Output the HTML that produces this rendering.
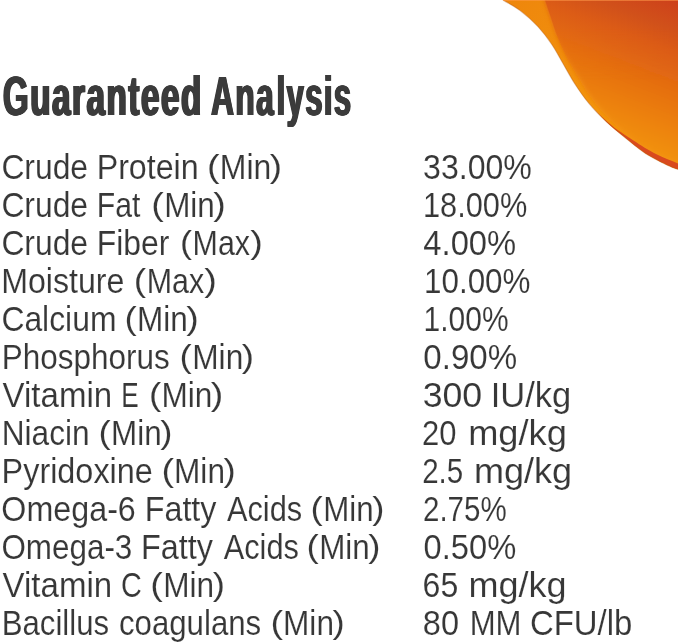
<!DOCTYPE html>
<html lang="en"><head><meta charset="utf-8"><title>Guaranteed Analysis</title>
<style>
html,body{margin:0;padding:0;background:#fff}
body{width:678px;height:642px;position:relative;overflow:hidden;font-family:"Liberation Sans",sans-serif}
.r span{position:absolute;left:0;top:0;white-space:pre;line-height:1;font-size:34.4px;color:#373737;transform-origin:0 0;-webkit-text-stroke:0.12px #fff}
h1{margin:0;font-size:55.5px;font-weight:bold;color:#3b3b3b}
h1 span{position:absolute;left:0;top:0;white-space:pre;line-height:1;transform-origin:0 0;letter-spacing:2.6px;text-shadow:1.6px 0 0 #3b3b3b,-1.6px 0 0 #3b3b3b,0.8px 0 0 #3b3b3b,-0.8px 0 0 #3b3b3b}
</style></head><body>
<svg width="678" height="642" viewBox="0 0 678 642" style="position:absolute;left:0;top:0">
<defs>
<linearGradient id="g1" gradientUnits="userSpaceOnUse" x1="678" y1="0" x2="622.6" y2="143.2">
<stop offset="0" stop-color="#cd401b"/><stop offset=".195" stop-color="#d1511a"/><stop offset=".33" stop-color="#dc5c16"/><stop offset=".44" stop-color="#e06514"/><stop offset=".53" stop-color="#e46c10"/><stop offset=".65" stop-color="#e8760d"/><stop offset=".81" stop-color="#ed830e"/><stop offset="1" stop-color="#f2920f"/>
</linearGradient>
<linearGradient id="g2" gradientUnits="userSpaceOnUse" x1="505" y1="0" x2="600" y2="110">
<stop offset="0" stop-color="#ee860c"/><stop offset="1" stop-color="#f4960d"/>
</linearGradient>
<linearGradient id="mg" gradientUnits="userSpaceOnUse" x1="0" y1="28" x2="0" y2="80">
<stop offset="0" stop-color="#fff"/><stop offset="1" stop-color="#000"/>
</linearGradient>
<filter id="bl" x="-30%" y="-30%" width="160%" height="160%"><feGaussianBlur stdDeviation="2.6"/></filter>
<clipPath id="co"><path d="M502.9 0.0C508.6 3.5 514.3 6.2 520.1 10.6C525.9 15.0 532.5 20.8 537.8 26.5C543.1 32.2 547.9 38.6 552.0 44.7C556.1 50.8 558.9 56.4 562.7 63.0C566.6 69.6 570.7 77.5 575.1 84.2C579.5 90.9 583.6 97.0 588.9 103.3C594.1 109.6 600.7 116.3 606.6 121.9C612.5 127.5 618.0 131.8 624.4 137.0C630.8 142.2 637.8 148.4 645.2 153.2C652.6 158.0 663.0 163.0 668.8 165.8C674.6 168.6 676.3 168.6 680.0 170.0L700 170L700 -30L500 -30Z"/></clipPath>
<mask id="mk" maskUnits="userSpaceOnUse" x="480" y="-5" width="220" height="200"><rect x="480" y="-5" width="220" height="200" fill="url(#mg)"/></mask>
</defs>
<path d="M502.9 0.0C508.6 3.5 514.3 6.2 520.1 10.6C525.9 15.0 532.5 20.8 537.8 26.5C543.1 32.2 547.9 38.6 552.0 44.7C556.1 50.8 558.9 56.4 562.7 63.0C566.6 69.6 570.7 77.5 575.1 84.2C579.5 90.9 583.6 97.0 588.9 103.3C594.1 109.6 600.7 116.3 606.6 121.9C612.5 127.5 618.0 131.8 624.4 137.0C630.8 142.2 637.8 148.4 645.2 153.2C652.6 158.0 663.0 163.0 668.8 165.8C674.6 168.6 676.3 168.6 680.0 170.0L700 170L700 -30L500 -30Z" fill="url(#g2)"/>
<g clip-path="url(#co)"><path d="M545.0 0.0C547.0 5.9 548.8 11.4 551.0 17.7C553.2 24.0 555.3 31.3 558.0 38.0C560.7 44.7 563.7 51.2 567.0 57.7C570.3 64.2 573.8 70.1 578.0 77.0C582.2 83.9 586.7 91.8 592.0 99.0C597.3 106.2 603.1 113.1 610.0 120.0C616.9 126.9 625.6 134.6 633.4 140.4C641.2 146.2 649.2 150.6 657.0 154.6C664.8 158.6 672.3 161.0 680.0 164.2L720 164L720 -30L545 -30Z" fill="url(#g1)" filter="url(#bl)"/></g>
<path d="M545.0 0.0C547.0 5.9 548.8 11.4 551.0 17.7C553.2 24.0 555.3 31.3 558.0 38.0C560.7 44.7 563.7 51.2 567.0 57.7C570.3 64.2 573.8 70.1 578.0 77.0C582.2 83.9 586.7 91.8 592.0 99.0C597.3 106.2 603.1 113.1 610.0 120.0C616.9 126.9 625.6 134.6 633.4 140.4C641.2 146.2 649.2 150.6 657.0 154.6C664.8 158.6 672.3 161.0 680.0 164.2L720 164L720 -30L545 -30Z" fill="url(#g1)" mask="url(#mk)"/>
<path d="M588.9 103.3C594.8 109.5 600.7 116.3 606.6 121.9C612.5 127.5 618.0 131.8 624.4 137.0C630.8 142.2 637.8 148.4 645.2 153.2C652.6 158.0 663.0 163.0 668.8 165.8C674.6 168.6 676.3 168.6 680.0 170.0L680.0 164.2C672.3 161.0 664.8 158.6 657.0 154.6C649.2 150.6 639.9 144.5 633.4 140.4C626.9 136.3 622.5 133.4 618.0 130.2C613.5 126.9 610.0 123.9 606.6 120.9C603.2 118.0 600.7 115.4 597.7 112.5C594.8 109.6 591.8 106.4 588.9 103.3Z" fill="#d94a1e"/>
<path d="M502.9 0.0C508.6 3.5 514.3 6.2 520.1 10.6C525.9 15.0 532.5 20.8 537.8 26.5C543.1 32.2 547.9 38.6 552.0 44.7C556.1 50.8 558.9 56.4 562.7 63.0C566.6 69.6 570.7 77.5 575.1 84.2C579.5 90.9 583.6 97.0 588.9 103.3C594.1 109.6 600.7 116.3 606.6 121.9C612.5 127.5 618.0 131.8 624.4 137.0C630.8 142.2 637.8 148.4 645.2 153.2C652.6 158.0 663.0 163.0 668.8 165.8C674.6 168.6 676.3 168.6 680.0 170.0" fill="none" stroke="#b4560c" stroke-width="1.1" opacity=".4"/>
<rect x="503" y="0" width="175" height="1" fill="#ff9a4a" opacity=".55"/>
</svg>
<h1><span style="transform:translate(2.88px,69.00px) scaleX(0.5977)">Guaranteed</span> <span style="transform:translate(211.18px,69.00px) scaleX(0.5672)">Ana</span><span style="transform:translate(276.65px,69.00px) scaleX(0.5560)">lysis</span> </h1>
<div class="r"><span style="transform:translate(1.38px,150.30px) scaleX(0.9254)">Crude</span> <span style="transform:translate(96.67px,150.30px) scaleX(0.9361)">Protein</span> <span style="transform:translate(206.88px,151.42px) scale(1.0969,0.8938)">(</span><span style="transform:translate(219.79px,150.30px) scaleX(0.9288)">Min</span><span style="transform:translate(269.78px,151.42px) scale(1.0680,0.8938)">)</span> <span style="transform:translate(423.03px,150.30px) scaleX(0.9331)">33.00%</span> </div>
<div class="r"><span style="transform:translate(1.38px,188.30px) scaleX(0.9254)">Crude</span> <span style="transform:translate(96.83px,188.30px) scaleX(0.8782)">Fat</span> <span style="transform:translate(151.23px,189.42px) scale(1.0961,0.8938)">(</span><span style="transform:translate(164.19px,188.30px) scaleX(0.9129)">Min</span><span style="transform:translate(213.32px,189.42px) scale(1.0961,0.8938)">)</span> <span style="transform:translate(423.01px,188.30px) scaleX(0.8938)">18.00%</span> </div>
<div class="r"><span style="transform:translate(1.38px,226.30px) scaleX(0.9254)">Crude</span> <span style="transform:translate(96.70px,226.30px) scaleX(0.9274)">Fiber</span> <span style="transform:translate(179.93px,227.42px) scale(1.0509,0.8938)">(</span><span style="transform:translate(192.62px,226.30px) scaleX(0.8835)">Max</span><span style="transform:translate(250.17px,227.42px) scale(1.1015,0.8938)">)</span> <span style="transform:translate(423.34px,226.30px) scaleX(0.9524)">4.00%</span> </div>
<div class="r"><span style="transform:translate(1.18px,264.30px) scaleX(0.9341)">Moisture</span> <span style="transform:translate(133.77px,265.42px) scale(1.0801,0.8938)">(</span><span style="transform:translate(146.77px,264.30px) scaleX(0.8835)">Max</span><span style="transform:translate(204.31px,265.42px) scale(1.1015,0.8938)">)</span> <span style="transform:translate(423.97px,264.30px) scaleX(0.9133)">10.00%</span> </div>
<div class="r"><span style="transform:translate(1.38px,302.30px) scaleX(0.9264)">Calcium</span> <span style="transform:translate(124.39px,303.42px) scale(1.0680,0.8938)">(</span><span style="transform:translate(137.03px,302.30px) scaleX(0.9159)">Min</span><span style="transform:translate(186.32px,303.42px) scale(1.0961,0.8938)">)</span> <span style="transform:translate(423.57px,302.30px) scaleX(0.8715)">1.00%</span> </div>
<div class="r"><span style="transform:translate(1.68px,340.30px) scaleX(0.9150)">Phosphorus</span> <span style="transform:translate(179.60px,341.42px) scale(1.0680,0.8938)">(</span><span style="transform:translate(192.21px,340.30px) scaleX(0.9209)">Min</span><span style="transform:translate(241.78px,341.42px) scale(1.0680,0.8938)">)</span> <span style="transform:translate(423.35px,340.30px) scaleX(0.9626)">0.90%</span> </div>
<div class="r"><span style="transform:translate(2.51px,378.30px) scaleX(0.9614)">Vitamin</span> <span style="transform:translate(121.26px,378.30px) scaleX(0.7602)">E</span> <span style="transform:translate(148.89px,379.42px) scale(1.0680,0.8938)">(</span><span style="transform:translate(161.52px,378.30px) scaleX(0.9179)">Min</span><span style="transform:translate(210.66px,379.42px) scale(1.0961,0.8938)">)</span> <span style="transform:translate(422.65px,378.30px) scaleX(1.0384)">300</span> <span style="transform:translate(490.74px,378.30px) scaleX(1.0027)">IU/kg</span> </div>
<div class="r"><span style="transform:translate(1.67px,416.30px) scaleX(0.9199)">Niacin</span> <span style="transform:translate(98.39px,417.42px) scale(1.0680,0.8938)">(</span><span style="transform:translate(111.04px,416.30px) scaleX(0.9119)">Min</span><span style="transform:translate(160.13px,417.42px) scale(1.0672,0.8938)">)</span> <span style="transform:translate(422.12px,416.30px) scaleX(0.8994)">20</span> <span style="transform:translate(468.18px,416.30px) scaleX(1.0538)">mg/kg</span> </div>
<div class="r"><span style="transform:translate(1.61px,454.30px) scaleX(0.9414)">Pyridoxine</span> <span style="transform:translate(161.38px,455.42px) scale(1.0969,0.8938)">(</span><span style="transform:translate(174.07px,454.30px) scaleX(0.9179)">Min</span><span style="transform:translate(223.48px,455.42px) scale(1.0680,0.8938)">)</span> <span style="transform:translate(422.20px,454.30px) scaleX(0.8573)">2.5</span> <span style="transform:translate(473.99px,454.30px) scaleX(1.0482)">mg/kg</span> </div>
<div class="r"><span style="transform:translate(1.36px,492.30px) scaleX(0.9379)">Omega-6</span> <span style="transform:translate(144.67px,492.30px) scaleX(0.9395)">Fatty</span> <span style="transform:translate(226.95px,492.30px) scaleX(0.8949)">Acids</span> <span style="transform:translate(310.60px,493.42px) scale(1.0680,0.8938)">(</span><span style="transform:translate(323.25px,492.30px) scaleX(0.9080)">Min</span><span style="transform:translate(372.13px,493.42px) scale(1.0672,0.8938)">)</span> <span style="transform:translate(423.00px,492.30px) scaleX(0.8582)">2.75%</span> </div>
<div class="r"><span style="transform:translate(1.40px,530.30px) scaleX(0.9132)">Omega-3</span> <span style="transform:translate(141.01px,530.30px) scaleX(0.9409)">Fatty</span> <span style="transform:translate(223.75px,530.30px) scaleX(0.8931)">Acids</span> <span style="transform:translate(306.60px,531.42px) scale(1.0680,0.8938)">(</span><span style="transform:translate(319.24px,530.30px) scaleX(0.9110)">Min</span><span style="transform:translate(368.28px,531.42px) scale(1.0680,0.8938)">)</span> <span style="transform:translate(423.51px,530.30px) scaleX(0.9505)">0.50%</span> </div>
<div class="r"><span style="transform:translate(2.51px,568.30px) scaleX(0.9614)">Vitamin</span> <span style="transform:translate(120.93px,568.30px) scaleX(0.8373)">C</span> <span style="transform:translate(150.23px,569.42px) scale(1.0961,0.8938)">(</span><span style="transform:translate(163.17px,568.30px) scaleX(0.9189)">Min</span><span style="transform:translate(212.63px,569.42px) scale(1.0672,0.8938)">)</span> <span style="transform:translate(422.57px,568.30px) scaleX(0.9315)">65</span> <span style="transform:translate(468.39px,568.30px) scaleX(1.0476)">mg/kg</span> </div>
<div class="r"><span style="transform:translate(1.71px,606.30px) scaleX(0.9061)">Bacillus</span> <span style="transform:translate(118.99px,606.30px) scaleX(0.9068)">coagulans</span> <span style="transform:translate(270.38px,607.42px) scale(1.0969,0.8938)">(</span><span style="transform:translate(283.07px,606.30px) scaleX(0.9179)">Min</span><span style="transform:translate(332.48px,607.42px) scale(1.0680,0.8938)">)</span> <span style="transform:translate(422.78px,606.30px) scaleX(0.9466)">80</span> <span style="transform:translate(469.71px,606.30px) scaleX(0.9044)">MM</span> <span style="transform:translate(529.88px,606.30px) scaleX(0.9566)">CFU/lb</span> </div>
</body></html>
